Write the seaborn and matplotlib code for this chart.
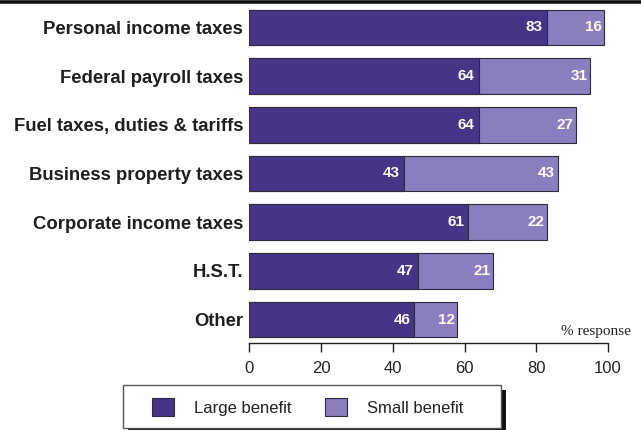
import matplotlib
matplotlib.use("Agg")
import matplotlib.pyplot as plt
from matplotlib.patches import Rectangle, Patch
from matplotlib.lines import Line2D
import seaborn as sns
import pandas as pd

# Survey results: share of respondents expecting a benefit from a tax cut
categories = [
    "Personal income taxes",
    "Federal payroll taxes",
    "Fuel taxes, duties & tariffs",
    "Business property taxes",
    "Corporate income taxes",
    "H.S.T.",
    "Other",
]
large_benefit = [83, 64, 64, 43, 61, 47, 46]
small_benefit = [16, 31, 27, 43, 22, 21, 12]
x_ticks = [0, 20, 40, 60, 80, 100]

DARK = "#463586"
LIGHT = "#8A7EBE"
EDGE = "#2e2a3a"

sns.set_style("white")
plt.rcParams["font.family"] = ["Liberation Sans", "DejaVu Sans"]

df = pd.DataFrame({
    "category": categories,
    "large": large_benefit,
    "small": small_benefit,
})
df["total"] = df["large"] + df["small"]

fig = plt.figure(figsize=(6.41, 4.30), dpi=100)
ax = fig.add_axes([249.3 / 641, 1 - 343 / 430, (608 - 249.3) / 641, 340 / 430])

# Stacked bars: the total drawn first in the light shade, the large share over it
sns.barplot(data=df, x="total", y="category", order=categories, color=LIGHT,
            saturation=1, width=0.73, edgecolor=EDGE, linewidth=0.8, ax=ax)
sns.barplot(data=df, x="large", y="category", order=categories, color=DARK,
            saturation=1, width=0.73, edgecolor=EDGE, linewidth=0.8, ax=ax)

for i, row in df.iterrows():
    ax.annotate(f"{row['large']}", xy=(row["large"], i), xytext=(-3, 0),
                textcoords="offset points", ha="right", va="center",
                color="white", fontsize=11, fontweight="bold")
    ax.annotate(f"{row['small']}", xy=(row["total"], i), xytext=(-2, 0),
                textcoords="offset points", ha="right", va="center",
                color="white", fontsize=11, fontweight="bold")

ax.set_xlim(0, 100)
ax.set_ylim(6.48, -0.5)
ax.set_xticks(x_ticks)
ax.set_xticklabels([str(t) for t in x_ticks], fontsize=12, color="#222222")
ax.set_xlabel("")
ax.set_ylabel("")
ax.tick_params(axis="x", direction="out", length=6.5, width=1, color="#222222",
               pad=6.5, bottom=True)
ax.tick_params(axis="y", length=0, pad=4.5)
for lab in ax.get_yticklabels():
    lab.set_fontsize(13.3)
    lab.set_fontweight("bold")
    lab.set_color("#1e1e1e")

for side in ("top", "right", "left"):
    ax.spines[side].set_visible(False)
ax.spines["bottom"].set_color("#222222")
ax.spines["bottom"].set_linewidth(1)

ax.text(1.064, 0.0235, "% response", transform=ax.transAxes, ha="right",
        va="baseline", fontsize=11, family=["Liberation Serif", "DejaVu Serif"],
        color="#222222")

# Heavy rule across the top of the figure
fig.add_artist(Line2D([0, 1], [1 - 1.8 / 430, 1 - 1.8 / 430], color="#111111",
                      linewidth=2.6, transform=fig.transFigure))

# Legend panel with a solid drop shadow
bx0, bx1, by0, by1 = 123, 501, 385, 428
fig.add_artist(Rectangle(((bx0 + 5) / 641, 1 - (by1 + 5) / 430),
                         (bx1 - bx0) / 641, (by1 - by0) / 430,
                         transform=fig.transFigure, facecolor="#111111",
                         edgecolor="none", zorder=1))
fig.add_artist(Rectangle((bx0 / 641, 1 - by1 / 430),
                         (bx1 - bx0) / 641, (by1 - by0) / 430,
                         transform=fig.transFigure, facecolor="white",
                         edgecolor="#555555", linewidth=1, zorder=2))

handles = [Patch(facecolor=DARK, edgecolor=EDGE, linewidth=0.8, label="Large benefit"),
           Patch(facecolor=LIGHT, edgecolor=EDGE, linewidth=0.8, label="Small benefit")]
leg = fig.legend(handles=handles, loc="center", ncol=2, frameon=False,
                 bbox_to_anchor=(308 / 641, 1 - 407 / 430), fontsize=12,
                 handlelength=1.32, handleheight=1.32, handletextpad=1.2,
                 columnspacing=2.0, borderpad=0)
leg.set_zorder(3)
for t in leg.get_texts():
    t.set_color("#222222")

fig.savefig("out.png", dpi=100)
